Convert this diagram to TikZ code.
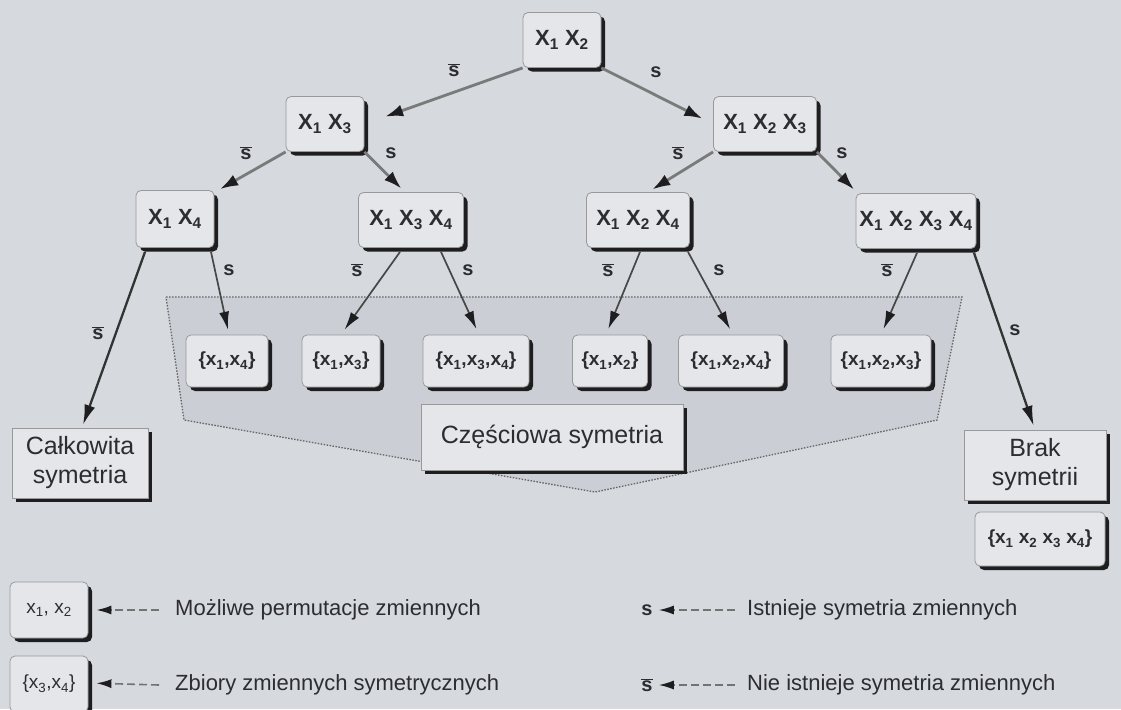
\documentclass[tikz,border=0pt]{standalone}
\usepackage{fontspec}
\setmainfont{Liberation Sans}
\usetikzlibrary{arrows.meta,shadows,calc}
\definecolor{bg}{RGB}{214,217,222}
\definecolor{boxfill}{RGB}{228,230,234}
\definecolor{polyfill}{RGB}{203,206,212}
\definecolor{shade}{RGB}{30,30,32}
\definecolor{ink}{RGB}{45,45,48}
\newcommand{\xs}[1]{X\textsubscript{#1}}
\newcommand{\xl}[1]{x\textsubscript{#1}}
\newcommand{\sbar}{$\overline{\mbox{\bfseries s}}$}
\tikzset{
  shadowed/.style={drop shadow={shadow xshift=4pt,shadow yshift=-4pt,fill=shade,opacity=1}},
  perm/.style={shadowed,draw=black!40,line width=0.8pt,fill=boxfill,rounded corners=5pt,
    font=\bfseries\fontsize{22}{26}\selectfont,text=ink,minimum height=55pt,inner sep=0pt},
  setbox/.style={perm,minimum height=52pt,font=\bfseries\fontsize{19}{22}\selectfont},
  result/.style={shadowed,draw=black!40,line width=0.8pt,fill=boxfill,
    font=\fontsize{25}{29}\selectfont,text=ink,align=center,inner sep=0pt,minimum height=70pt},
  elab/.style={font=\bfseries\fontsize{20}{23}\selectfont,text=ink,inner sep=0pt},
  uparr/.style={draw=black!52,line width=2.8pt,-{Latex[length=18pt,width=12pt,color=shade]}},
  loarr/.style={draw=black!72,line width=1.7pt,-{Latex[length=18pt,width=10pt,color=shade]}},
  bigarr/.style={draw=black!80,line width=2.3pt,-{Latex[length=20pt,width=11pt,color=shade]}},
  legarr/.style={draw=black!55,line width=1.6pt,dash pattern=on 8pt off 4pt,
    -{Latex[length=15pt,width=9pt,color=shade]}},
  legtext/.style={anchor=west,font=\fontsize{22}{26}\selectfont,text=ink,inner sep=0pt}
}
\begin{document}
\begin{tikzpicture}[x=1pt,y=-1pt]
\fill[bg] (0,0) rectangle (1121,709);
\useasboundingbox (0,0) rectangle (1121,709);
% shaded region
\fill[polyfill] (166,297) -- (962,297) -- (937,420) -- (595,492) -- (184,420) -- cycle;
\draw[black!60,line width=1.3pt,dash pattern=on 1.5pt off 1.5pt] (166,297) -- (962,297) -- (937,420) -- (595,492) -- (184,420) -- cycle;
% tree nodes
\node[perm,minimum width=78pt] (x12) at (562,40) {\xs1 \xs2};
\node[perm,minimum width=78pt] (x13) at (325,124) {\xs1 \xs3};
\node[perm,minimum width=103pt] (x123) at (765,124) {\xs1 \xs2 \xs3};
\node[perm,minimum width=78pt,minimum height=57pt] (x14) at (175,219) {\xs1 \xs4};
\node[perm,minimum width=105pt] (x134) at (411,220) {\xs1 \xs3 \xs4};
\node[perm,minimum width=103pt] (x124) at (638,220) {\xs1 \xs2 \xs4};
\node[perm,minimum width=120pt] (x1234) at (916,221) {\xs1 \xs2 \xs3 \xs4};
% sets
\node[setbox,minimum width=82pt] (s14) at (227,361) {\{\xl1,\xl4\}};
\node[setbox,minimum width=78pt] (s13) at (341,361) {\{\xl1,\xl3\}};
\node[setbox,minimum width=106pt] (s134) at (476,361) {\{\xl1,\xl3,\xl4\}};
\node[setbox,minimum width=75pt] (s12) at (610,361) {\{\xl1,\xl2\}};
\node[setbox,minimum width=105pt] (s124) at (731,361) {\{\xl1,\xl2,\xl4\}};
\node[setbox,minimum width=100pt] (s123) at (881,361) {\{\xl1,\xl2,\xl3\}};
% results
\node[result,minimum width=262pt,minimum height=66pt] (czes) at (552,437) {Częściowa symetria};
\node[result,minimum width=136pt] (cal) at (80,463) {Całkowita\\symetria};
\node[result,minimum width=142pt] (brak) at (1035,465) {Brak\\symetrii};
\node[setbox,minimum width=130pt,minimum height=54pt] (sall) at (1040,539) {\{\xl1 \xl2 \xl3 \xl4\}};
% edges upper
\draw[uparr,shorten >=22pt] (x12.south west) -- (x13.east);
\draw[uparr,shorten >=12pt] (x12.south east) -- (x123.west);
\draw[uparr,shorten >=2pt] (x13.south west) -- ([xshift=4pt]x14.north east);
\draw[uparr,shorten >=5pt] (x13.south east) -- ([xshift=-6pt]x134.north);
\draw[uparr,shorten >=5pt] (x123.south west) -- ([xshift=10pt]x124.north);
\draw[uparr,shorten >=5pt] (x123.south east) -- ([xshift=2pt]x1234.north west);
% edges lower
\draw[bigarr,shorten >=3pt] ([xshift=-30pt,yshift=-4pt]x14.south) -- ([xshift=2pt]cal.north);
\draw[loarr,shorten >=5pt] ([xshift=36pt,yshift=-4pt]x14.south) -- ([xshift=2pt]s14.north);
\draw[loarr,shorten >=6pt] ([xshift=-11pt,yshift=-4pt]x134.south) -- (s13.north);
\draw[loarr,shorten >=6pt] ([xshift=30pt,yshift=-4pt]x134.south) -- ([xshift=3pt]s134.north);
\draw[loarr,shorten >=6pt] ([xshift=2pt,yshift=-4pt]x124.south) -- ([xshift=-4pt]s12.north);
\draw[loarr,shorten >=6pt] ([xshift=50pt,yshift=-4pt]x124.south) -- ([xshift=2pt]s124.north);
\draw[loarr,shorten >=6pt] ([xshift=1pt,yshift=-4pt]x1234.south) -- (s123.north);
\draw[bigarr,shorten >=4pt] ([xshift=58pt,yshift=-4pt]x1234.south) -- (brak.north);
% edge labels
\node[elab] (l1) at (454,70) {\sbar};
\node[elab] (l2) at (656,72) {s};
\node[elab] (l3) at (246,153) {\sbar};
\node[elab] (l4) at (391,153) {s};
\node[elab] (l5) at (678,153) {\sbar};
\node[elab] (l6) at (842,153) {s};
\node[elab] (l7) at (98,333) {\sbar};
\node[elab] (l8) at (229,270) {s};
\node[elab] (l9) at (357,270) {\sbar};
\node[elab] (l10) at (468,270) {s};
\node[elab] (l11) at (608,270) {\sbar};
\node[elab] (l12) at (719,270) {s};
\node[elab] (l13) at (887,270) {\sbar};
\node[elab] (l14) at (1015,330) {s};
% legend
\node[perm,minimum width=78pt,minimum height=56pt,font=\fontsize{19}{22}\selectfont] (lg1) at (49,610) {\xl1, \xl2};
\node[perm,minimum width=78pt,minimum height=56pt,font=\fontsize{19}{22}\selectfont] (lg2) at (49,684) {\{\xl3,\xl4\}};
\coordinate (la1) at (159,610);
\coordinate (la2) at (159,685);
\draw[legarr,shorten >=8pt] (la1) -- (lg1.east);
\draw[legarr,shorten >=8pt] (la2) -- ([yshift=1pt]lg2.east);
\node[legtext] (t1) at (175,610) {Możliwe permutacje zmiennych};
\node[legtext] (t2) at (175,685) {Zbiory zmiennych symetrycznych};
\node[elab] (ls1) at (647,610) {s};
\node[elab] (ls2) at (647,685) {\sbar};
\coordinate (lb1) at (735,610);
\coordinate (lb2) at (735,685);
\draw[legarr,shorten >=6pt] (lb1) -- (ls1);
\draw[legarr,shorten >=6pt] (lb2) -- (ls2);
\node[legtext] (t3) at (747,610) {Istnieje symetria zmiennych};
\node[legtext] (t4) at (747,685) {Nie istnieje symetria zmiennych};
\end{tikzpicture}
\end{document}
